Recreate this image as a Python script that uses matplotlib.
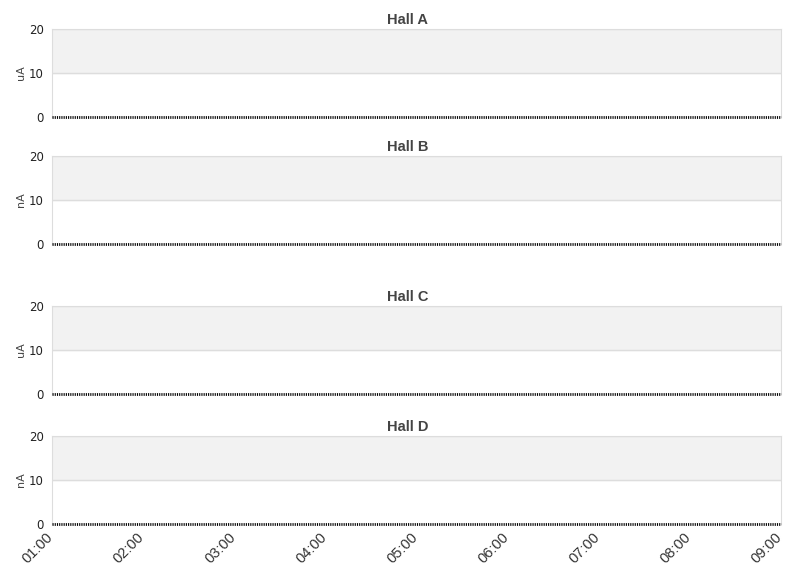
import numpy as np
import matplotlib
matplotlib.use('Agg')
import matplotlib.pyplot as plt
import matplotlib.dates as mdates
import matplotlib.transforms as mtransforms
from datetime import datetime, timedelta

halls = ['Hall A', 'Hall B', 'Hall C', 'Hall D']
units = ['uA', 'nA', 'uA', 'nA']
start = datetime(2024, 1, 1, 1, 0)
times = [start + timedelta(minutes=10 * i) for i in range(49)]
currents = {
    'Hall A': [0] * len(times),
    'Hall B': [0] * len(times),
    'Hall C': [0] * len(times),
    'Hall D': [0] * len(times),
}
yticks = [0, 10, 20]

fig = plt.figure(figsize=(8.11, 5.78), dpi=100)
bottoms = [0.7976, 0.5779, 0.3183, 0.0934]
for k, h in enumerate(halls):
    ax = fig.add_axes([0.0641, bottoms[k], 0.899, 0.1522])
    ax.axhspan(10, 20, color='#f2f2f2', zorder=0)
    ax.plot(times, currents[h], color='black', ls=(0, (0.4, 0.4)), lw=2, zorder=3, clip_on=False)
    ax.set_ylim(0, 20)
    ax.set_xlim(times[0], times[-1])
    ax.set_yticks(yticks)
    ax.grid(axis='y', color='#dddddd', lw=1)
    for s in ['left', 'right', 'top']:
        ax.spines[s].set_color('#dddddd')
    ax.spines['bottom'].set_visible(False)
    ax.tick_params(axis='y', length=0, labelsize=8.5, colors='#222222', pad=6)
    ax.tick_params(axis='x', length=0)
    ax.set_ylabel(units[k], fontsize=8, color='#444444')
    ax.yaxis.set_label_coords(-0.036, 0.5)
    ax.set_title(h, fontsize=10.5, fontweight='bold', color='#444444', pad=3.5,
                 family='Liberation Sans', x=0.488)
    ax.xaxis.set_major_locator(mdates.HourLocator())
    ax.xaxis.set_major_formatter(mdates.DateFormatter('%H:%M'))
    if k < 3:
        ax.set_xticklabels([])
    else:
        shift = mtransforms.ScaledTranslation(-0.06, -0.01, fig.dpi_scale_trans)
        for lab in ax.get_xticklabels():
            lab.set_rotation(45)
            lab.set_ha('right')
            lab.set_rotation_mode('anchor')
            lab.set_fontsize(10.5)
            lab.set_family('Liberation Sans')
            lab.set_color('#333333')
            lab.set_transform(lab.get_transform() + shift)

fig.savefig('out.png', dpi=100)
